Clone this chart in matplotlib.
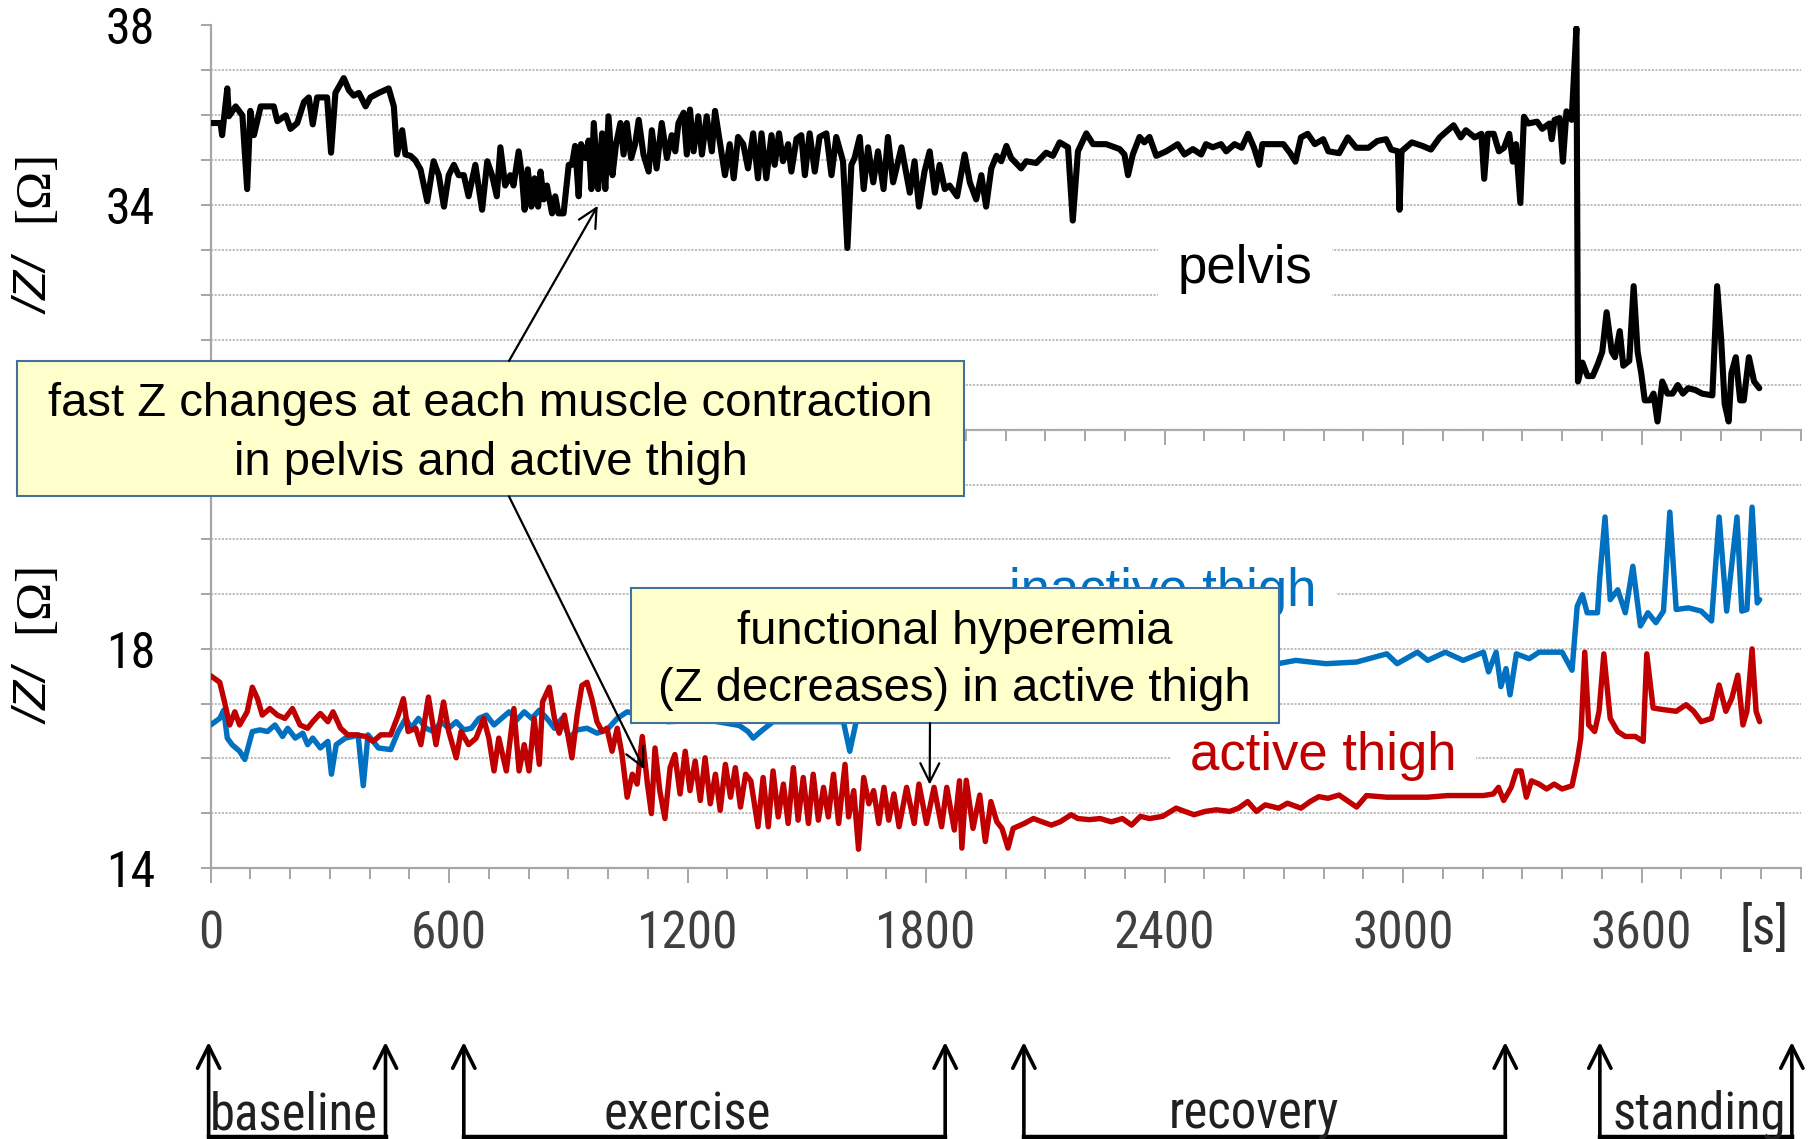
import matplotlib
matplotlib.use("Agg")
import matplotlib.pyplot as plt
from matplotlib import font_manager as fm
from matplotlib.patches import Rectangle, FancyArrowPatch, ConnectionPatch
from matplotlib.lines import Line2D
from matplotlib.transforms import blended_transform_factory
from matplotlib.ticker import FixedLocator, MultipleLocator, NullFormatter

# ---------------------------------------------------------------- data
# time [s] and |Z| [Ohm] of the pelvis segment
pelvis_t = [
    0, 25, 29, 42, 46, 63, 80, 92, 100, 109,
    126, 159, 168, 189, 201, 218, 235, 247, 257, 268,
    293, 303, 314, 335, 348, 360, 373, 390, 402, 423,
    448, 461, 469, 482, 490, 503, 515, 528, 545, 561,
    574, 587, 599, 612, 624, 637, 649, 666, 683, 696,
    708, 720, 729, 741, 754, 762, 775, 783, 790, 798,
    807, 815, 824, 830, 838, 846, 859, 867, 875, 888,
    901, 909, 917, 926, 932, 943, 951, 958, 964, 975,
    985, 993, 1001, 1011, 1020, 1031, 1039, 1047, 1058, 1068,
    1077, 1089, 1102, 1110, 1122, 1135, 1148, 1160, 1169, 1177,
    1190, 1198, 1206, 1215, 1227, 1236, 1248, 1261, 1269, 1282,
    1294, 1306, 1316, 1327, 1340, 1352, 1365, 1377, 1386, 1398,
    1411, 1419, 1430, 1440, 1453, 1461, 1474, 1486, 1495, 1507,
    1520, 1532, 1549, 1562, 1574, 1591, 1602, 1612, 1620, 1633,
    1643, 1654, 1667, 1679, 1693, 1704, 1717, 1738, 1759, 1771,
    1782, 1796, 1809, 1822, 1834, 1847, 1859, 1878, 1897, 1910,
    1926, 1939, 1951, 1964, 1977, 1989, 2002, 2014, 2039, 2052,
    2077, 2102, 2119, 2136, 2157, 2169, 2182, 2203, 2220, 2253,
    2287, 2299, 2308, 2320, 2337, 2349, 2362, 2379, 2404, 2433,
    2450, 2471, 2492, 2504, 2521, 2542, 2555, 2576, 2594, 2610,
    2625, 2638, 2646, 2699, 2716, 2729, 2743, 2760, 2778, 2799,
    2812, 2839, 2861, 2882, 2913, 2935, 2957, 2970, 2987, 2991,
    2996, 3022, 3049, 3070, 3092, 3127, 3145, 3158, 3180, 3197,
    3204, 3213, 3228, 3241, 3254, 3267, 3276, 3284, 3295, 3304,
    3315, 3337, 3350, 3368, 3374, 3381, 3394, 3402, 3411, 3424,
    3436, 3440, 3451, 3464, 3477, 3490, 3501, 3512, 3525, 3533,
    3545, 3554, 3569, 3580, 3590, 3599, 3608, 3621, 3630, 3640,
    3652, 3665, 3678, 3691, 3704, 3717, 3735, 3752, 3778, 3790,
    3800, 3809, 3819, 3826, 3837, 3848, 3857, 3870, 3883, 3896,
]
pelvis_z = [
    35.83, 35.83, 35.56, 36.6, 35.98, 36.2, 36.0, 34.36, 36.1, 35.56,
    36.2, 36.2, 35.87, 36.0, 35.7, 35.83, 36.3, 36.4, 35.8, 36.4,
    36.4, 35.17, 36.5, 36.83, 36.56, 36.44, 36.5, 36.2, 36.4, 36.5,
    36.6, 36.2, 35.13, 35.67, 35.13, 35.1, 35.0, 34.8, 34.09, 34.98,
    34.67, 33.97, 34.67, 34.9, 34.67, 34.67, 34.2, 34.9, 33.9, 34.98,
    34.67, 34.2, 35.29, 34.44, 34.67, 34.44, 35.2, 34.67, 33.9, 34.8,
    33.97, 34.6, 33.97, 34.75, 34.13, 34.44, 33.82, 34.2, 33.82, 33.82,
    34.9, 34.9, 35.32, 34.2, 35.36, 35.05, 35.44, 34.36, 35.83, 34.36,
    35.6, 34.36, 35.98, 34.67, 35.36, 35.83, 35.13, 35.83, 35.05, 35.36,
    35.9, 35.13, 34.75, 35.67, 34.82, 35.83, 35.05, 35.56, 35.2, 35.83,
    36.06, 35.13, 36.13, 35.2, 35.98, 35.13, 35.98, 35.2, 36.1, 35.36,
    34.67, 35.36, 34.6, 35.52, 35.36, 34.82, 35.6, 34.6, 35.6, 34.6,
    35.56, 34.9, 35.6, 34.98, 35.36, 34.75, 35.48, 35.56, 34.67, 35.6,
    34.75, 35.52, 35.6, 34.67, 35.52, 34.98, 33.05, 34.9, 35.05, 35.52,
    34.36, 35.29, 34.51, 35.2, 34.36, 35.52, 34.51, 35.29, 34.28, 34.98,
    33.97, 34.75, 35.2, 34.28, 34.9, 34.36, 34.44, 34.2, 35.13, 34.51,
    34.13, 34.67, 33.97, 34.82, 35.1, 34.98, 35.32, 35.05, 34.82, 34.98,
    34.94, 35.17, 35.1, 35.4, 35.29, 33.66, 35.2, 35.6, 35.36, 35.36,
    35.25, 35.13, 34.67, 35.13, 35.52, 35.4, 35.52, 35.1, 35.2, 35.36,
    35.13, 35.25, 35.13, 35.36, 35.29, 35.36, 35.2, 35.36, 35.28, 35.59,
    35.28, 34.9, 35.36, 35.36, 35.16, 34.97, 35.51, 35.59, 35.36, 35.47,
    35.2, 35.16, 35.51, 35.28, 35.28, 35.43, 35.47, 35.24, 35.2, 33.9,
    35.2, 35.4, 35.32, 35.24, 35.51, 35.78, 35.51, 35.67, 35.51, 35.59,
    34.59, 35.59, 35.59, 35.2, 35.28, 35.59, 34.97, 35.36, 34.05, 35.97,
    35.82, 35.86, 35.7, 35.82, 35.47, 35.9, 35.94, 34.97, 36.09, 35.9,
    37.94, 30.08, 30.5, 30.2, 30.2, 30.47, 30.74, 31.62, 30.74, 30.62,
    31.2, 30.43, 30.54, 32.2, 30.74, 30.27, 29.66, 29.66, 29.81, 29.19,
    30.08, 29.81, 29.81, 30.0, 29.81, 29.93, 29.89, 29.81, 29.77, 32.2,
    31.04, 29.58, 29.19, 30.27, 30.62, 29.66, 29.66, 30.62, 30.08, 29.93,
]

# inactive thigh
inactive_t = [
    0, 23, 33, 42, 54, 73, 86, 105, 124, 143,
    162, 181, 194, 213, 232, 244, 257, 276, 295, 304,
    316, 339, 358, 371, 384, 396, 422, 453, 472, 491,
    504, 523, 542, 561, 580, 599, 618, 637, 656, 675,
    694, 713, 732, 751, 770, 789, 808, 827, 846, 865,
    884, 903, 922, 947, 972, 997, 1023, 1048, 1086, 1149,
    1251, 1330, 1352, 1365, 1384, 1415, 1504, 1592, 1608, 1624,
    1656, 1750, 1850, 1950, 2050, 2150, 2250, 2350, 2450, 2550,
    2620, 2685, 2730, 2806, 2883, 2959, 2985, 3036, 3062, 3106,
    3151, 3202, 3215, 3234, 3246, 3259, 3269, 3285, 3317, 3342,
    3400, 3425, 3438, 3451, 3463, 3489, 3495, 3508, 3521, 3540,
    3559, 3578, 3597, 3616, 3636, 3655, 3671, 3687, 3718, 3750,
    3776, 3795, 3814, 3840, 3852, 3865, 3878, 3891, 3897,
]
inactive_z = [
    16.61, 16.73, 16.88, 16.37, 16.25, 16.13, 15.98, 16.49, 16.52, 16.49,
    16.61, 16.4, 16.55, 16.37, 16.46, 16.25, 16.37, 16.19, 16.31, 15.71,
    16.25, 16.37, 16.4, 16.43, 15.5, 16.43, 16.19, 16.16, 16.49, 16.73,
    16.55, 16.73, 16.55, 16.49, 16.67, 16.55, 16.67, 16.52, 16.55, 16.73,
    16.79, 16.61, 16.73, 16.85, 16.7, 16.85, 16.73, 16.88, 16.73, 16.55,
    16.73, 16.37, 16.52, 16.55, 16.46, 16.52, 16.73, 16.85, 16.79, 16.67,
    16.7, 16.6, 16.49, 16.37, 16.49, 16.67, 16.67, 16.67, 16.13, 16.67,
    16.73, 16.8, 16.9, 17.05, 17.2, 17.35, 17.45, 17.55, 17.6, 17.65,
    17.7, 17.73, 17.79, 17.73, 17.76, 17.91, 17.73, 17.94, 17.79, 17.94,
    17.79, 17.94, 17.58, 17.94, 17.31, 17.64, 17.16, 17.91, 17.82, 17.94,
    17.94, 17.61, 18.78, 18.99, 18.66, 18.66, 19.33, 20.41, 18.9, 19.08,
    18.66, 19.51, 18.42, 18.66, 18.48, 18.69, 20.5, 18.72, 18.75, 18.69,
    18.51, 20.41, 18.69, 20.41, 18.69, 18.72, 20.59, 18.84, 18.9,
]

# active thigh
active_t = [
    0, 23, 35, 48, 61, 73, 92, 105, 118, 130,
    149, 168, 187, 206, 225, 244, 257, 276, 295, 308,
    327, 345, 365, 390, 409, 428, 453, 472, 485, 497,
    516, 529, 548, 567, 586, 599, 618, 630, 649, 668,
    687, 700, 713, 725, 744, 763, 776, 789, 801, 814,
    827, 835, 852, 865, 877, 890, 909, 922, 934, 947,
    959, 972, 985, 997, 1010, 1023, 1035, 1048, 1061, 1073,
    1086, 1099, 1109, 1118, 1130, 1143, 1156, 1168, 1181, 1194,
    1206, 1219, 1232, 1244, 1257, 1270, 1282, 1295, 1308, 1320,
    1333, 1346, 1359, 1377, 1390, 1403, 1415, 1428, 1441, 1453,
    1466, 1478, 1491, 1504, 1516, 1529, 1542, 1554, 1567, 1580,
    1596, 1605, 1618, 1630, 1643, 1656, 1668, 1681, 1694, 1706,
    1719, 1732, 1751, 1770, 1782, 1801, 1820, 1839, 1852, 1871,
    1884, 1890, 1901, 1918, 1935, 1949, 1963, 1978, 1991, 2006,
    2019, 2047, 2070, 2092, 2115, 2137, 2165, 2182, 2210, 2238,
    2266, 2294, 2317, 2339, 2362, 2395, 2429, 2451, 2474, 2502,
    2530, 2564, 2586, 2609, 2631, 2653, 2687, 2709, 2743, 2766,
    2788, 2811, 2839, 2883, 2908, 2959, 3010, 3061, 3112, 3202,
    3227, 3240, 3253, 3272, 3285, 3297, 3310, 3323, 3342, 3361,
    3380, 3400, 3425, 3438, 3447, 3457, 3467, 3482, 3493, 3505,
    3521, 3540, 3559, 3584, 3604, 3613, 3629, 3655, 3687, 3712,
    3731, 3750, 3776, 3795, 3812, 3827, 3842, 3855, 3865, 3878,
    3888, 3897,
]
active_z = [
    17.51, 17.39, 17.03, 16.61, 16.85, 16.61, 16.85, 17.3, 17.09, 16.79,
    16.91, 16.79, 16.73, 16.91, 16.61, 16.55, 16.67, 16.82, 16.67, 16.85,
    16.55, 16.43, 16.43, 16.4, 16.31, 16.43, 16.43, 16.79, 17.09, 16.49,
    16.55, 16.25, 17.12, 16.25, 17.03, 16.49, 16.01, 16.49, 16.25, 16.37,
    16.73, 16.37, 15.77, 16.37, 15.77, 16.91, 15.77, 16.25, 15.77, 16.73,
    15.89, 17.03, 17.3, 16.73, 16.46, 16.79, 16.01, 16.79, 17.33, 17.39,
    17.09, 16.67, 16.49, 16.55, 16.13, 16.55, 16.07, 15.29, 15.71, 15.53,
    16.4, 15.53, 14.99, 16.19, 15.41, 14.9, 15.83, 16.07, 15.35, 16.13,
    15.41, 15.95, 15.23, 16.01, 15.17, 15.71, 15.05, 15.89, 15.29, 15.83,
    15.11, 15.71, 15.59, 14.75, 15.65, 14.75, 15.77, 14.93, 15.53, 14.81,
    15.83, 14.87, 15.65, 14.81, 15.71, 14.87, 15.47, 14.93, 15.71, 14.81,
    15.89, 14.93, 15.41, 14.34, 15.65, 15.17, 15.41, 14.81, 15.47, 14.87,
    15.35, 14.75, 15.47, 14.81, 15.53, 14.81, 15.47, 14.75, 15.47, 14.69,
    15.59, 14.36, 15.6, 14.72, 15.33, 14.48, 15.21, 14.84, 14.72, 14.36,
    14.72, 14.81, 14.9, 14.84, 14.78, 14.84, 14.97, 14.9, 14.88, 14.9,
    14.84, 14.9, 14.78, 14.94, 14.9, 14.94, 15.09, 15.03, 14.97, 15.03,
    15.06, 15.03, 15.09, 15.21, 15.03, 15.15, 15.09, 15.18, 15.09, 15.21,
    15.3, 15.27, 15.33, 15.11, 15.32, 15.29, 15.29, 15.29, 15.32, 15.32,
    15.35, 15.47, 15.23, 15.47, 15.77, 15.77, 15.29, 15.59, 15.53, 15.44,
    15.53, 15.44, 15.5, 15.95, 16.37, 17.94, 16.61, 16.49, 16.86, 17.91,
    16.73, 16.49, 16.4, 16.4, 16.31, 17.91, 16.92, 16.89, 16.86, 16.98,
    16.86, 16.67, 16.73, 17.34, 16.86, 17.1, 17.52, 16.61, 16.86, 18.0,
    16.86, 16.67,
]

x_tick_values = [0, 600, 1200, 1800, 2400, 3000, 3600]
x_tick_labels = ["0", "600", "1200", "1800", "2400", "3000", "3600"]
top_ytick_labels = {38: "38", 34: "34"}
low_ytick_labels = {18: "18", 14: "14"}

# protocol phases
phase_start = [-5, 637, 2046, 3495]
phase_end = [440, 1848, 3257, 3978]
phase_names = ["baseline", "exercise", "recovery", "standing"]
phase_label_t = [210, 1200, 2625, 3744]

# ---------------------------------------------------------------- fonts
SANS = "Liberation Sans"
SERIF = "Liberation Serif"


def find_condensed():
    """Return the path of a narrow sans-serif regular face, if one is installed."""
    prefs = ["Liberation Sans Narrow", "Roboto Condensed", "Open Sans Condensed",
             "Noto Sans Condensed", "DejaVu Sans Condensed", "DejaVu Sans"]
    regular = []
    for f in fm.fontManager.ttflist:
        if f.style != "normal":
            continue
        w = f.weight if isinstance(f.weight, int) else {"normal": 400, "regular": 400}.get(f.weight, 0)
        if w != 400:
            continue
        narrow = ("Narrow" in f.name or "Condensed" in f.name or
                  f.stretch in ("condensed", "semi-condensed") or
                  "Condensed" in f.fname or "Narrow" in f.fname)
        if narrow and "Semi" not in f.fname and "Extra" not in f.fname:
            regular.append(f)
    for p in prefs:
        for f in regular:
            if f.name == p:
                return f.fname
    return regular[0].fname if regular else None


COND_PATH = find_condensed()


def narrow_font(size):
    if COND_PATH:
        return fm.FontProperties(fname=COND_PATH, size=size)
    return fm.FontProperties(family=SANS, size=size * 0.84)


BLUE = "#0070C0"
RED = "#C00000"
AXIS_GREY = "#A6A6A6"
GRID_GREY = "#B8B8B8"
BOX_FILL = "#FFFFCC"
BOX_EDGE = "#41719C"

W, H, DPI = 1814, 1139, 100
fig = plt.figure(figsize=(W / DPI, H / DPI), dpi=DPI)
fig.patch.set_facecolor("white")


def fxp(px):
    return px / W


def fyp(py):
    return 1 - py / H


X_LEFT, X_RIGHT = 210.6, 1800.6
Y_TOP, Y_MID, Y_BOT = 25.5, 430.0, 867.8

ax_top = fig.add_axes([fxp(X_LEFT), fyp(Y_MID), (X_RIGHT - X_LEFT) / W, (Y_MID - Y_TOP) / H])
ax_low = fig.add_axes([fxp(X_LEFT), fyp(Y_BOT), (X_RIGHT - X_LEFT) / W, (Y_BOT - Y_MID) / H])


def style_axes(ax, ylo, yhi, labels):
    ax.set_facecolor("none")
    ax.set_xlim(0, 4000)
    ax.set_ylim(ylo, yhi)
    for s in ("top", "right"):
        ax.spines[s].set_visible(False)
    for s in ("left", "bottom"):
        ax.spines[s].set_color(AXIS_GREY)
        ax.spines[s].set_linewidth(1.6)
    yt = list(range(ylo, yhi + 1))
    ax.yaxis.set_major_locator(FixedLocator(yt))
    ax.set_yticklabels([labels.get(v, "") for v in yt], fontproperties=narrow_font(36))
    ax.tick_params(axis="y", direction="out", length=7, width=1.4, color=AXIS_GREY,
                   pad=33, labelcolor="black")
    ax.xaxis.set_major_locator(FixedLocator(x_tick_values))
    ax.xaxis.set_minor_locator(MultipleLocator(100))
    ax.tick_params(axis="x", which="major", direction="out", length=11, width=1.4,
                   color=AXIS_GREY)
    ax.tick_params(axis="x", which="minor", direction="out", length=8, width=1.4,
                   color=AXIS_GREY)
    ax.set_axisbelow(True)
    ax.grid(axis="y", which="major", color=GRID_GREY, linestyle=(0, (1.2, 0.8)),
            linewidth=1.3)
    ax.grid(axis="x", visible=False)


style_axes(ax_top, 29, 38, top_ytick_labels)
style_axes(ax_low, 14, 22, low_ytick_labels)
ax_top.xaxis.set_major_formatter(NullFormatter())
ax_low.set_xticks(x_tick_values)
ax_low.set_xticklabels(x_tick_labels, fontproperties=narrow_font(37))
ax_low.tick_params(axis="x", which="major", pad=19, labelcolor="#404040")

# series
ax_top.plot(pelvis_t, pelvis_z, color="black", lw=4.4, solid_joinstyle="round",
            solid_capstyle="round", zorder=4)
ax_low.plot(inactive_t, inactive_z, color=BLUE, lw=3.9, solid_joinstyle="round",
            solid_capstyle="round", zorder=4)
ax_low.plot(active_t, active_z, color=RED, lw=3.9, solid_joinstyle="round",
            solid_capstyle="round", zorder=5)

# series names
ax_top.text(2603, 32.26, "pelvis", color="black", fontsize=38, family=SANS,
            ha="center", va="baseline", zorder=3,
            bbox=dict(facecolor="white", edgecolor="none", pad=14))
ax_low.text(2395, 18.78, "inactive thigh", color=BLUE, fontsize=38, family=SANS,
            ha="center", va="baseline", zorder=3,
            bbox=dict(facecolor="white", edgecolor="none", pad=14))
ax_low.text(2800, 15.78, "active thigh", color=RED, fontsize=38, family=SANS,
            ha="center", va="baseline", zorder=3,
            bbox=dict(facecolor="white", edgecolor="none", pad=14))

# axis titles  /Z/  [Ω]
for zc, oc in ((286.5, 186.0), (696.0, 597.0)):
    fig.text(fxp(37), fyp(zc), "/Z/", rotation=90, ha="center", va="center",
             fontsize=34, family=SANS, style="italic")
    fig.text(fxp(35), fyp(oc), "[Ω]", rotation=90, ha="center", va="center",
             fontsize=37, family=SERIF)
fig.text(fxp(1764), fyp(930), "[s]", ha="center", va="center",
         fontproperties=narrow_font(37), color="#303030")


# annotation boxes
def note_box(x0, y0, x1, y1, lines, baselines):
    rect = Rectangle((fxp(x0), fyp(y1)), (x1 - x0) / W, (y1 - y0) / H,
                     transform=fig.transFigure, facecolor=BOX_FILL,
                     edgecolor=BOX_EDGE, linewidth=1.5, zorder=10)
    fig.add_artist(rect)
    for txt, b in zip(lines, baselines):
        fig.text(fxp((x0 + x1) / 2), fyp(b), txt, ha="center", va="baseline",
                 fontsize=34, family=SANS, color="black", zorder=11)


note_box(17.4, 361.0, 963.8, 496.4,
         ["fast Z changes at each muscle contraction", "in pelvis and active thigh"],
         [416, 475])
note_box(630.6, 587.8, 1278.5, 723.1,
         ["functional hyperemia", "(Z decreases) in active thigh"],
         [644, 701])


def pointer(start_px, ax, target):
    cp = ConnectionPatch(xyA=(fxp(start_px[0]), fyp(start_px[1])), coordsA="figure fraction",
                         xyB=target, coordsB="data", axesB=ax,
                         arrowstyle="->", mutation_scale=34, lw=1.6, color="black",
                         shrinkA=0, shrinkB=0, zorder=12)
    fig.add_artist(cp)


pointer((509, 361.0), ax_top, (974, 33.99))
pointer((509, 496.4), ax_low, (1091, 15.8))
pointer((930, 723.1), ax_low, (1809, 15.52))

# protocol phase brackets under the time axis
trans = blended_transform_factory(ax_low.transData, fig.transFigure)
y_base = fyp(1136.5)
y_tip = fyp(1042)
for t0, t1, name, tl in zip(phase_start, phase_end, phase_names, phase_label_t):
    for tx in (t0, t1):
        arr = FancyArrowPatch((tx, y_base), (tx, y_tip), transform=trans,
                              arrowstyle="->", mutation_scale=40, lw=2.6,
                              color="black", shrinkA=0, shrinkB=0)
        fig.add_artist(arr)
    fig.add_artist(Line2D([t0, t1], [y_base, y_base], transform=trans,
                          color="black", lw=3.2, solid_capstyle="projecting"))
    fig.text(tl, fyp(1129), name, transform=trans, ha="center", va="baseline",
             fontproperties=narrow_font(36.5), color="#202020")

fig.savefig("out.png", dpi=DPI)
